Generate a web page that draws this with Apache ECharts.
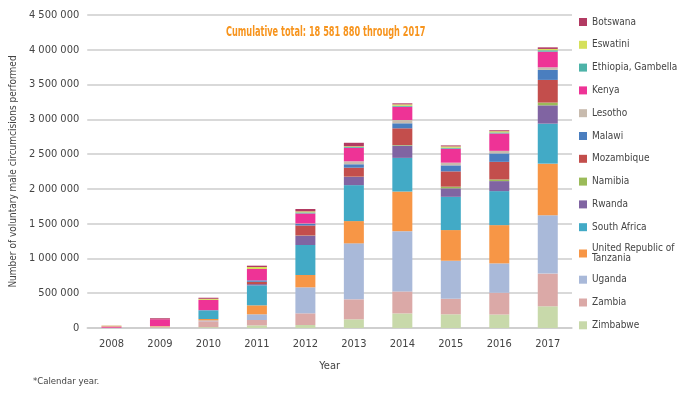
<!DOCTYPE html>
<html><head><meta charset="utf-8">
<script src="https://cdn.jsdelivr.net/npm/echarts@6/dist/echarts.min.js"></script>
<style>html,body{margin:0;padding:0;background:#fff}#c{width:688px;height:395px}</style>
</head><body><div id="c"></div>
<script>
const years = ['2008','2009','2010','2011','2012','2013','2014','2015','2016','2017'];
const yTicks = [0,500000,1000000,1500000,2000000,2500000,3000000,3500000,4000000,4500000];
// stacking order bottom -> top
const zimbabwe    = [0, 6000, 12000, 38000, 43000, 125000, 210000, 197000, 194000, 312000];
const zambia      = [5000, 18000, 85000, 77000, 168000, 287000, 316000, 224000, 313000, 470000];
const uganda      = [0, 0, 12000, 82000, 374000, 805000, 866000, 546000, 422000, 838000];
const tanzania    = [0, 5000, 20000, 129000, 177000, 320000, 570000, 441000, 550000, 743000];
const southAfrica = [0, 0, 125000, 287000, 431000, 517000, 484000, 478000, 489000, 575000];
const rwanda      = [0, 0, 0, 18000, 134000, 119000, 177000, 122000, 144000, 263000];
const namibia     = [0, 0, 0, 0, 3000, 3000, 8000, 24000, 24000, 40000];
const mozambique  = [0, 0, 0, 34000, 144000, 129000, 240000, 220000, 253000, 326000];
const malawi      = [0, 0, 3000, 20000, 24000, 49000, 72000, 86000, 121000, 144000];
const lesotho     = [0, 0, 0, 0, 5000, 43000, 47000, 39000, 37000, 37000];
const kenya       = [18000, 96000, 148000, 163000, 144000, 194000, 191000, 201000, 250000, 225000];
const ethiopia    = [0, 0, 0, 0, 15000, 12000, 14000, 14000, 15000, 20000];
const eswatini    = [10000, 0, 15000, 29000, 15000, 10000, 20000, 19000, 17000, 19000];
const botswana    = [2000, 15000, 15000, 19000, 34000, 50000, 15000, 14000, 14000, 23000];

const titleText = 'Cumulative total: 18 581 880 through 2017';
const yAxisName = 'Number of voluntary male circumcisions performed';
const xAxisName = 'Year';
const footnote = '*Calendar year.';

const seriesDefs = [
  ['Zimbabwe', zimbabwe, '#C8D9AA'],
  ['Zambia', zambia, '#DBA9A7'],
  ['Uganda', uganda, '#A9B9D9'],
  ['United Republic of\nTanzania', tanzania, '#F79646'],
  ['South Africa', southAfrica, '#42AAC6'],
  ['Rwanda', rwanda, '#8064A2'],
  ['Namibia', namibia, '#9BBB59'],
  ['Mozambique', mozambique, '#C34E4C'],
  ['Malawi', malawi, '#4A7EBF'],
  ['Lesotho', lesotho, '#C8BBAE'],
  ['Kenya', kenya, '#EE3396'],
  ['Ethiopia, Gambella', ethiopia, '#4DB3A8'],
  ['Eswatini', eswatini, '#D5E05B'],
  ['Botswana', botswana, '#B23A62']
];

const FONT = "'Liberation Sans Narrow', 'DejaVu Sans Condensed', 'Liberation Sans', sans-serif";
const fmt = v => String(v).replace(/\B(?=(\d{3})+(?!\d))/g, ' ');
const legendText = {fontFamily: FONT, fontSize: 10, color: '#444', lineHeight: 10};
const legendBase = {orient: 'vertical', left: 574, icon: 'rect', itemWidth: 8, itemHeight: 8, itemGap: 12.8, textStyle: legendText, selectedMode: false};

const chart = echarts.init(document.getElementById('c'), null, {renderer: 'canvas'});
chart.setOption({
  animation: false,
  textStyle: {fontFamily: FONT},
  grid: {left: 82, right: 116, top: 15, bottom: 67},
  legend: [
    Object.assign({}, legendBase, {top: 12, data: ['Botswana','Eswatini','Ethiopia, Gambella','Kenya','Lesotho','Malawi','Mozambique','Namibia','Rwanda','South Africa']}),
    Object.assign({}, legendBase, {top: 238.5, data: ['United Republic of\nTanzania']}),
    Object.assign({}, legendBase, {top: 269.7, data: ['Uganda','Zambia','Zimbabwe']})
  ],
  xAxis: {
    type: 'category', data: years,
    name: xAxisName, nameLocation: 'middle', nameGap: 33,
    nameTextStyle: {fontFamily: FONT, fontSize: 11, color: '#444'},
    axisLine: {lineStyle: {color: '#cccccc', width: 1.5}},
    axisTick: {show: false},
    axisLabel: {fontFamily: FONT, fontSize: 11, color: '#444', margin: 11}
  },
  yAxis: {
    type: 'value', min: yTicks[0], max: yTicks[yTicks.length-1], interval: yTicks[1]-yTicks[0],
    name: yAxisName, nameLocation: 'middle', nameGap: 67,
    nameTextStyle: {fontFamily: FONT, fontSize: 10, color: '#444'},
    axisLine: {show: false}, axisTick: {show: false},
    axisLabel: {fontFamily: FONT, fontSize: 11, color: '#444', margin: 8, formatter: fmt},
    splitLine: {lineStyle: {color: '#cccccc', width: 1.5}}
  },
  graphic: [
    {type: 'text', x: 226, y: 25, scaleX: 0.65, style: {text: titleText, fontFamily: FONT, fontSize: 14, fontWeight: 'bold', fill: '#F7941D'}},
    {type: 'text', left: 33, top: 377, style: {text: footnote, fontFamily: FONT, fontSize: 9.5, fill: '#444'}}
  ],
  series: seriesDefs.map(d => ({
    name: d[0], type: 'bar', stack: 'all', data: d[1], barWidth: 20,
    itemStyle: {color: d[2]}
  }))
});
</script></body></html>
